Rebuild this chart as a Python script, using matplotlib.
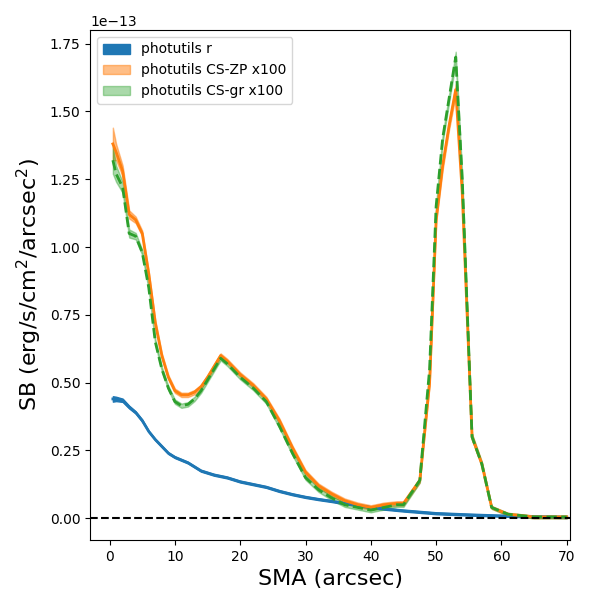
import numpy as np
import matplotlib.pyplot as plt

sma_r = [0.5, 1, 2, 3, 4, 5, 6, 7, 8, 9, 10, 12, 14, 16, 18, 20, 22, 24, 26, 28, 30,
         32, 34, 36, 38, 40, 42, 45, 48, 50, 55, 60, 65, 70]
sb_r = [0.44, 0.44, 0.435, 0.41, 0.39, 0.36, 0.32, 0.29, 0.265, 0.24, 0.225, 0.205,
        0.175, 0.16, 0.15, 0.135, 0.125, 0.115, 0.1, 0.088, 0.078, 0.07, 0.063, 0.055,
        0.048, 0.04, 0.035, 0.028, 0.022, 0.018, 0.013, 0.009, 0.006, 0.004]
err_r = [0.01, 0.008, 0.006, 0.005, 0.004, 0.004, 0.003, 0.003, 0.003, 0.003, 0.003,
         0.003, 0.003, 0.003, 0.003, 0.003, 0.003, 0.003, 0.003, 0.003, 0.003, 0.003,
         0.003, 0.003, 0.003, 0.003, 0.003, 0.003, 0.003, 0.003, 0.003, 0.003, 0.003, 0.003]

sma = [0.5, 1, 2, 3, 4, 5, 6, 7, 8, 9, 10, 11, 12, 13, 14, 15, 16, 17, 18, 20, 22, 24,
       26, 28, 30, 32, 34, 36, 38, 40, 42, 44, 45, 47.5, 49, 50, 51, 52, 53, 54, 55.5,
       57, 58.5, 61, 65, 70]
sb_zp = [1.38, 1.35, 1.28, 1.12, 1.10, 1.05, 0.9, 0.72, 0.6, 0.52, 0.47, 0.455, 0.455,
         0.465, 0.485, 0.52, 0.56, 0.60, 0.58, 0.53, 0.49, 0.44, 0.36, 0.26, 0.17, 0.12,
         0.09, 0.065, 0.05, 0.04, 0.05, 0.055, 0.055, 0.14, 0.5, 1.1, 1.3, 1.45, 1.58,
         1.2, 0.3, 0.2, 0.04, 0.015, 0.005, 0.005]
err_zp = [0.06, 0.03, 0.02, 0.015, 0.012, 0.01, 0.01, 0.01, 0.008, 0.008, 0.008, 0.008,
          0.008, 0.008, 0.008, 0.008, 0.008, 0.008, 0.008, 0.008, 0.008, 0.008, 0.008,
          0.008, 0.008, 0.008, 0.008, 0.008, 0.008, 0.008, 0.008, 0.008, 0.008, 0.008,
          0.01, 0.01, 0.015, 0.015, 0.02, 0.015, 0.01, 0.008, 0.005, 0.005, 0.005, 0.005]
sb_gr = [1.32, 1.27, 1.22, 1.05, 1.04, 0.98, 0.85, 0.65, 0.55, 0.48, 0.43, 0.415, 0.42,
         0.44, 0.47, 0.51, 0.55, 0.59, 0.57, 0.52, 0.48, 0.43, 0.34, 0.24, 0.15, 0.105,
         0.075, 0.05, 0.04, 0.03, 0.04, 0.05, 0.05, 0.14, 0.55, 1.15, 1.4, 1.55, 1.70,
         1.25, 0.3, 0.2, 0.04, 0.015, 0.005, 0.005]
err_gr = [0.05, 0.03, 0.02, 0.015, 0.012, 0.01, 0.01, 0.01, 0.008, 0.008, 0.008, 0.008,
          0.008, 0.008, 0.008, 0.008, 0.008, 0.008, 0.008, 0.008, 0.008, 0.008, 0.008,
          0.008, 0.008, 0.008, 0.008, 0.008, 0.008, 0.008, 0.008, 0.008, 0.008, 0.008,
          0.01, 0.01, 0.015, 0.015, 0.02, 0.015, 0.01, 0.008, 0.005, 0.005, 0.005, 0.005]

s = 1e-13
sma_r, sb_r, err_r = np.array(sma_r), np.array(sb_r) * s, np.array(err_r) * s
sma = np.array(sma)
sb_zp, err_zp = np.array(sb_zp) * s, np.array(err_zp) * s
sb_gr, err_gr = np.array(sb_gr) * s, np.array(err_gr) * s

fig, ax = plt.subplots(figsize=(6, 6), dpi=100)
ax.fill_between(sma_r, sb_r - err_r, sb_r + err_r, color='C0', label='photutils r')
ax.plot(sma_r, sb_r, color='C0', lw=2)
ax.fill_between(sma, sb_zp - err_zp, sb_zp + err_zp, color='C1', alpha=0.5,
                label='photutils CS-ZP x100')
ax.plot(sma, sb_zp, color='C1', lw=2)
ax.fill_between(sma, sb_gr - err_gr, sb_gr + err_gr, color='C2', alpha=0.4,
                label='photutils CS-gr x100')
ax.plot(sma, sb_gr, color='C2', lw=2, ls='--')
ax.axhline(0, color='k', ls='--')
ax.set_xlim(-3, 70.5)
ax.set_ylim(-0.08e-13, 1.8e-13)
ax.set_xlabel('SMA (arcsec)', fontsize=16)
ax.set_ylabel('SB (erg/s/cm$^2$/arcsec$^2$)', fontsize=16)
ax.legend(loc='upper left')
fig.subplots_adjust(left=0.15, right=0.95, top=0.95, bottom=0.1)
fig.savefig('out.png')
